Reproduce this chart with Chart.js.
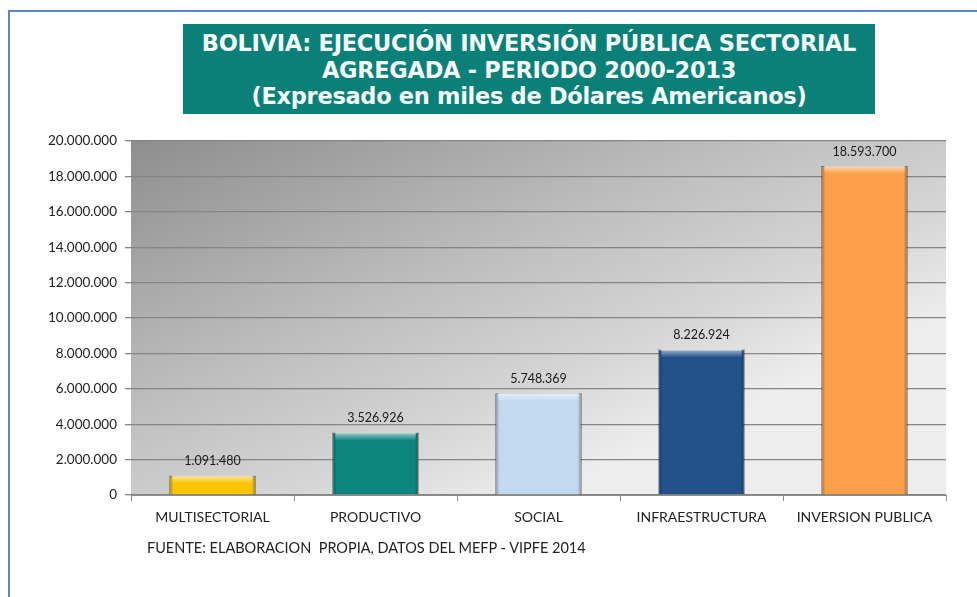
<!DOCTYPE html>
<html>
<head>
<meta charset="utf-8">
<script src="https://cdn.jsdelivr.net/npm/chart.js@4"></script>
<style>
  html, body { margin: 0; padding: 0; background: #fff; }
  body { width: 977px; height: 597px; position: relative; overflow: hidden; font-family: Lato, "Open Sans", sans-serif; }
  #frame { position: absolute; left: 8px; top: 10px; width: 980px; height: 600px; border-left: 2px solid #5a86c2; border-top: 2px solid #5a86c2; }
  #title { position: absolute; left: 183px; top: 24px; width: 692px; height: 90px; background: #0b8079; color: #f4fbfb; text-align: center; font-family: "DejaVu Sans", sans-serif; font-weight: bold; font-size: 22.5px; line-height: 26.5px; padding-top: 6px; box-sizing: border-box; letter-spacing: -0.3px; white-space: nowrap; }
  #chart-wrap { position: absolute; left: 0; top: 0; width: 977px; height: 597px; }
  #source { position: absolute; left: 147px; top: 539px; font-size: 14.5px; color: #222; }
</style>
</head>
<body>
<div id="frame"></div>
<div id="chart-wrap"><canvas id="sector-chart" width="977" height="597"></canvas></div>
<div id="title">BOLIVIA: EJECUCIÓN INVERSIÓN PÚBLICA SECTORIAL<br>AGREGADA - PERIODO 2000-2013<br>(Expresado en miles de Dólares Americanos)</div>
<div id="source">FUENTE: ELABORACION &nbsp;PROPIA, DATOS DEL MEFP - VIPFE 2014</div>
<script>
const sectores = ["MULTISECTORIAL", "PRODUCTIVO", "SOCIAL", "INFRAESTRUCTURA", "INVERSION PUBLICA"];
const montos = [1091480, 3526926, 5748369, 8226924, 18593700];
const coloresBarra = ["#fcc400", "#0b857e", "#c2d9f0", "#235189", "#fb9f4a"];
const ejeMax = 20000000;
const ejePaso = 2000000;

const formatoMiles = (v) => Math.round(v).toString().replace(/\B(?=(\d{3})+(?!\d))/g, ".");

// fondo degradado del area de trazado
const fondoPlot = {
  id: "fondoPlot",
  beforeDraw(chart) {
    const { ctx, chartArea: a } = chart;
    const g = ctx.createLinearGradient(a.left, a.top, a.left + 194, a.top + 445);
    g.addColorStop(0, "#8e8e8e");
    g.addColorStop(0.5, "#bdbdbd");
    g.addColorStop(0.8, "#d6d6d6");
    g.addColorStop(1, "#ededed");
    ctx.save();
    ctx.fillStyle = g;
    ctx.fillRect(a.left, a.top, a.right - a.left, a.bottom - a.top);
    ctx.restore();
  },
};

// biselado de las barras y etiquetas de valor
const biselYEtiquetas = {
  id: "biselYEtiquetas",
  afterDatasetsDraw(chart) {
    const { ctx } = chart;
    const meta = chart.getDatasetMeta(0);
    ctx.save();
    meta.data.forEach((bar, i) => {
      const { x, y, base, width } = bar.getProps(["x", "y", "base", "width"], true);
      const l = x - width / 2;
      const h = base - y;
      const lado = ctx.createLinearGradient(l, 0, l + width, 0);
      lado.addColorStop(0, "rgba(0,0,0,0.3)");
      lado.addColorStop(0.05, "rgba(0,0,0,0)");
      lado.addColorStop(0.95, "rgba(0,0,0,0)");
      lado.addColorStop(1, "rgba(0,0,0,0.32)");
      ctx.fillStyle = lado;
      ctx.fillRect(l, y, width, h);
      const tope = ctx.createLinearGradient(0, y, 0, y + 8);
      tope.addColorStop(0, "rgba(255,255,255,0.6)");
      tope.addColorStop(1, "rgba(255,255,255,0)");
      ctx.fillStyle = tope;
      ctx.fillRect(l + 3, y, width - 6, Math.min(8, h));

      ctx.fillStyle = "#1a1a1a";
      ctx.font = "12.5px Lato, sans-serif";
      ctx.textAlign = "center";
      ctx.textBaseline = "bottom";
      ctx.fillText(formatoMiles(montos[i]), x, y - 8);
    });
    ctx.restore();
  },
};

new Chart(document.getElementById("sector-chart"), {
  type: "bar",
  data: {
    labels: sectores,
    datasets: [
      {
        data: montos,
        backgroundColor: coloresBarra,
        borderColor: "rgba(0,0,0,0.25)",
        borderWidth: 1,
        barPercentage: 0.53,
        categoryPercentage: 1,
      },
    ],
  },
  options: {
    responsive: false,
    animation: false,
    layout: { padding: { left: 0, right: 31, top: 141, bottom: 62 } },
    plugins: {
      legend: { display: false },
      tooltip: { enabled: false },
    },
    scales: {
      x: {
        afterFit: (scale) => { scale.height = 40; },
        grid: { offset: true, drawOnChartArea: false, color: "#8c8c8c", tickLength: 6 },
        border: { color: "#8c8c8c" },
        ticks: { color: "#222", font: { family: "Lato", size: 14 }, padding: 8 },
      },
      y: {
        min: 0,
        max: ejeMax,
        afterFit: (scale) => { scale.width = 131; },
        grid: { color: "#858585", tickLength: 6, lineWidth: 1.3 },
        border: { display: false },
        ticks: {
          stepSize: ejePaso,
          color: "#222",
          font: { family: "Lato", size: 13.5 },
          padding: 8,
          callback: (v) => formatoMiles(v),
        },
      },
    },
  },
  plugins: [fondoPlot, biselYEtiquetas],
});
</script>
</body>
</html>
